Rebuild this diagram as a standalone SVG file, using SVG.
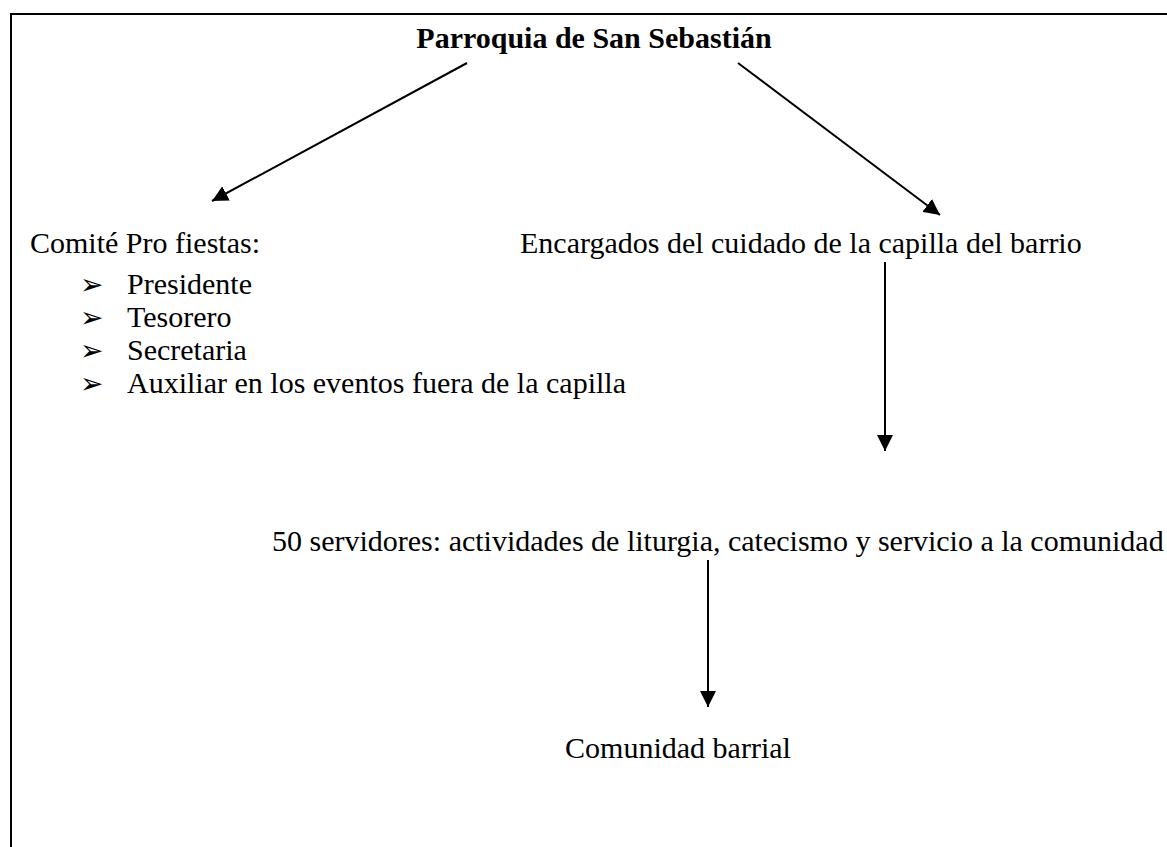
<svg xmlns="http://www.w3.org/2000/svg" width="1167" height="847" viewBox="0 0 1167 847">
<style>
.t{font-family:"Liberation Serif","Times New Roman",serif;font-size:30px;fill:#000}
.b{font-weight:bold}
.bul{font-family:"DejaVu Sans",sans-serif;font-size:28px;fill:#000}
.c{stroke:#000;stroke-width:2;fill:none}
</style>
<defs>
<marker id="ah" markerUnits="userSpaceOnUse" markerWidth="18" markerHeight="16" refX="16" refY="8" orient="auto">
<path d="M0,0 L16,8 L0,16 Z" fill="#000"/>
</marker>
</defs>
<rect width="1167" height="847" fill="#fff"/>
<path d="M11,847 L11,14 L1167,14" fill="none" stroke="#000" stroke-width="2"/>
<g id="connectors">
<line class="c" x1="467" y1="63" x2="212" y2="201" marker-end="url(#ah)"/>
<line class="c" x1="738" y1="63" x2="940" y2="215" marker-end="url(#ah)"/>
<line class="c" x1="885" y1="262" x2="885" y2="451" marker-end="url(#ah)"/>
<line class="c" x1="708" y1="560" x2="708" y2="707" marker-end="url(#ah)"/>
</g>
<g id="parroquia"><text class="t b" x="594" y="48" text-anchor="middle">Parroquia de San Sebastián</text></g>
<g id="comite">
<text class="t" x="30" y="253">Comité Pro fiestas:</text>
<text class="bul" x="80" y="294">➢</text><text class="t" x="127" y="294">Presidente</text>
<text class="bul" x="80" y="327">➢</text><text class="t" x="127" y="327">Tesorero</text>
<text class="bul" x="80" y="360">➢</text><text class="t" x="127" y="360">Secretaria</text>
<text class="bul" x="80" y="393">➢</text><text class="t" x="127" y="393">Auxiliar en los eventos fuera de la capilla</text>
</g>
<g id="encargados"><text class="t" x="520" y="253">Encargados del cuidado de la capilla del barrio</text></g>
<g id="servidores"><text class="t" x="272" y="551">50 servidores: actividades de liturgia, catecismo y servicio a la comunidad</text></g>
<g id="comunidad"><text class="t" x="678" y="758" text-anchor="middle">Comunidad barrial</text></g>
</svg>
